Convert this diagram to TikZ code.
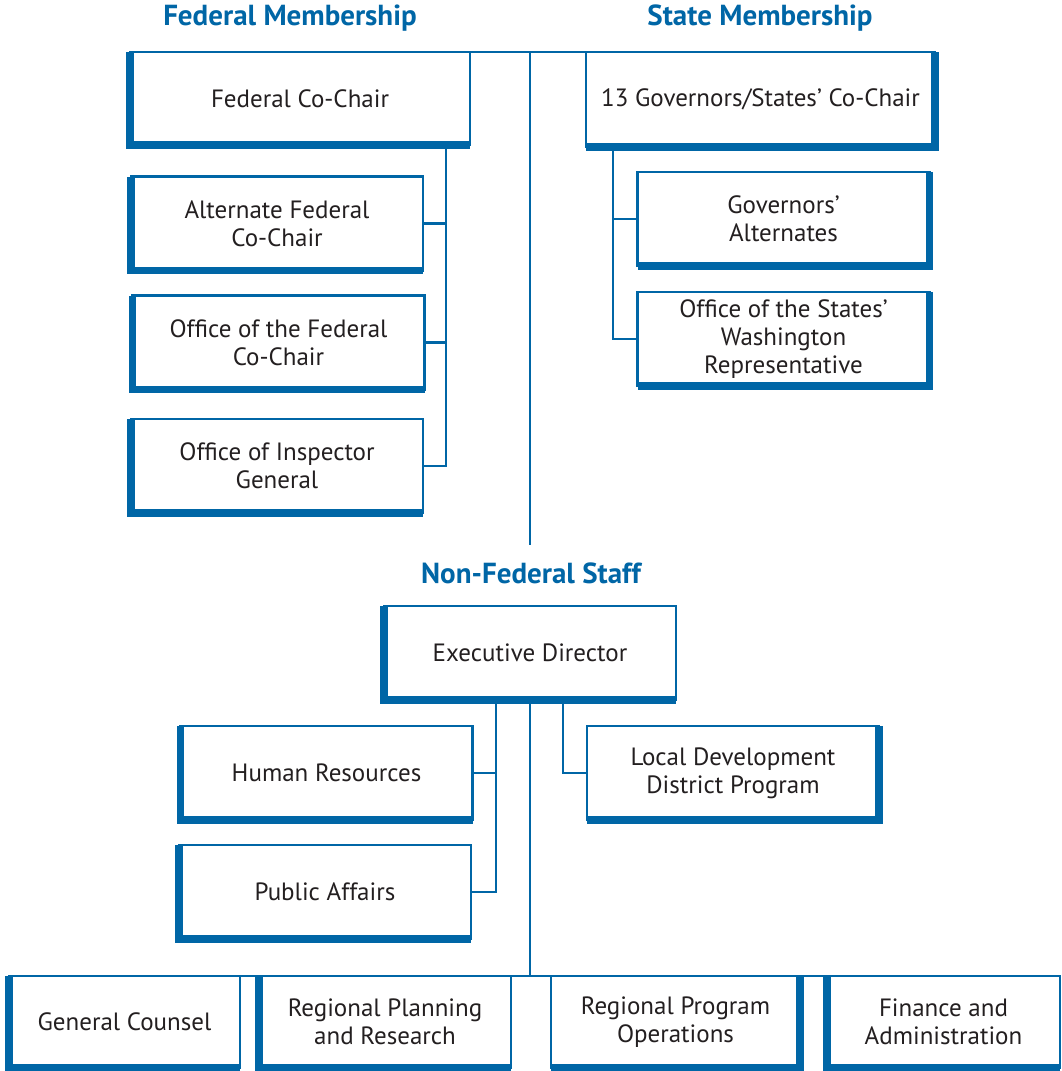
\documentclass[tikz,border=0pt]{standalone}
\usepackage{fontspec}
\setmainfont{PT Sans}
\definecolor{arcblue}{RGB}{0,102,166}
\definecolor{arctext}{RGB}{35,31,32}
\tikzset{
  unitbox/.style={draw=arcblue, line width=2.6pt, fill=white, outer sep=0pt,
    minimum width=292pt, minimum height=94pt, align=center,
    text=arctext, font=\fontsize{25}{28}\selectfont},
  heading/.style={text=arcblue, font=\fontsize{29}{32}\selectfont\bfseries},
  link/.style={draw=arcblue, line width=2.6pt},
  thickedge/.style={draw=arcblue, line width=7.5pt, line cap=butt, line join=miter}
}
\begin{document}
\begin{tikzpicture}[x=1pt, y=-1pt]
  \useasboundingbox (0,0) rectangle (1062,1071);

  % headings
  \node[heading] (fedhead) at (290,18) {Federal Membership};
  \node[heading] (statehead) at (760,18) {State Membership};
  \node[heading] (staffhead) at (531,573) {Non-Federal Staff};

  % federal side
  \node[unitbox, minimum width=340pt, minimum height=93pt] (fcc) at (300,98.5) {Federal Co-Chair};
  \node[unitbox] (afc) at (277,223.5) {Alternate Federal\\Co-Chair};
  \node[unitbox] (ofc) at (278.5,342.5) {Office of the Federal\\Co-Chair};
  \node[unitbox] (oig) at (277,466) {Office of Inspector\\General};

  % state side
  \node[unitbox, minimum width=349pt, minimum height=95pt] (gov) at (760.5,99.5) {13 Governors/States’ Co-Chair};
  \node[unitbox] (galt) at (783.5,219) {Governors’\\Alternates};
  \node[unitbox] (osw) at (783.5,339) {Office of the States’\\Washington\\Representative};

  % staff
  \node[unitbox] (ed) at (530,653) {Executive Director};
  \node[unitbox] (hr) at (326.5,773) {Human Resources};
  \node[unitbox] (pa) at (325,892) {Public Affairs};
  \node[unitbox] (ldd) at (733,773) {Local Development\\District Program};

  \node[unitbox, minimum width=231pt, minimum height=92pt] (gc) at (124.5,1022) {General Counsel};
  \node[unitbox, minimum width=252pt, minimum height=92pt] (rpr) at (385,1022) {Regional Planning\\and Research};
  \node[unitbox, minimum width=249pt, minimum height=92pt] (rpo) at (675.5,1022) {Regional Program\\Operations};
  \node[unitbox, minimum width=233pt, minimum height=92pt] (fa) at (943.5,1022) {Finance and\\Administration};

  % heavy edges
  \foreach \n in {fcc,afc,ofc,oig,ed,hr,pa,gc,rpr,fa}
    \draw[thickedge] (\n.north west) -- (\n.south west) -- (\n.south east);
  \foreach \n in {gov,galt,osw,ldd,rpo}
    \draw[thickedge] (\n.north east) -- (\n.south east) -- (\n.south west);

  % connectors
  \coordinate (spine) at (530,52);
  \coordinate (spineend) at (530,545);
  \draw[link] (fcc.north east) -- (gov.north west);
  \draw[link] (spine) -- (spineend);

  \coordinate (fbus) at (446,0);
  \draw[link] (fcc.south -| fbus) |- (oig.east);
  \draw[link] (afc.east) -- (afc.east -| fbus);
  \draw[link] (ofc.east) -- (ofc.east -| fbus);

  \coordinate (sbus) at (613,0);
  \draw[link] (gov.south -| sbus) |- (osw.west);
  \draw[link] (galt.west) -- (galt.west -| sbus);

  \coordinate (lbus) at (496,0);
  \coordinate (rbus) at (563,0);
  \draw[link] (ed.south -| lbus) |- (pa.east);
  \draw[link] (hr.east) -- (hr.east -| lbus);
  \draw[link] (ed.south -| rbus) |- (ldd.west);
  \draw[link] (ed.south) -- (ed.south |- gc.north);
  \draw[link] (gc.north west) -- (fa.north east);
\end{tikzpicture}
\end{document}
